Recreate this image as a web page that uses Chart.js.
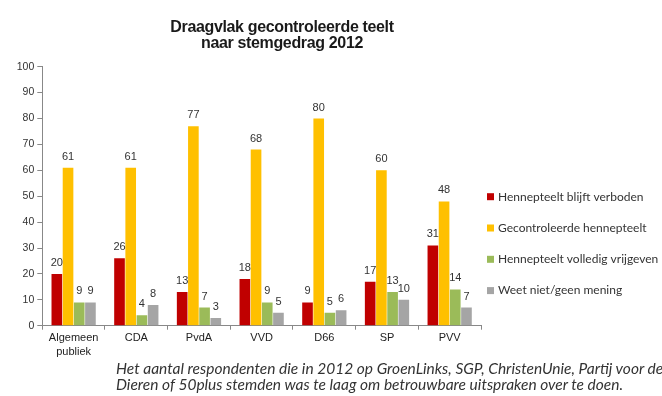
<!DOCTYPE html>
<html>
<head>
<meta charset="utf-8">
<script src="https://cdn.jsdelivr.net/npm/chart.js@4"></script>
<style>
  html, body { margin: 0; padding: 0; background: #fff; }
  #wrap { position: relative; width: 662px; height: 396px; overflow: hidden; }
  #title {
    position: absolute; left: 0; top: 19px; width: 564px;
    text-align: center; font: bold 16px "Liberation Sans", Arial, sans-serif;
    line-height: 16px; color: #1a1a1a; letter-spacing: -0.35px;
  }
  #note {
    position: absolute; left: 116px; top: 360px; white-space: nowrap;
    font: italic 15.5px Lato, "Open Sans", sans-serif; line-height: 16px; color: #333;
  }
  canvas { position: absolute; left: 0; top: 0; }
</style>
</head>
<body>
<div id="wrap">
  <canvas id="chart" width="662" height="396"></canvas>
  <div id="title">Draagvlak gecontroleerde teelt<br>naar stemgedrag 2012</div>
  <div id="note">Het aantal respondenten die in 2012 op GroenLinks, SGP, ChristenUnie, Partij voor de<br>Dieren of 50plus stemden was te laag om betrouwbare uitspraken over te doen.</div>
</div>
<script>
// Data
const categories = [['Algemeen', 'publiek'], 'CDA', 'PvdA', 'VVD', 'D66', 'SP', 'PVV'];
const seriesNames = ['Hennepteelt blijft verboden', 'Gecontroleerde hennepteelt', 'Hennepteelt volledig vrijgeven', 'Weet niet/geen mening'];
const verboden = [20, 26, 13, 18, 9, 17, 31];
const gecontroleerd = [61, 61, 77, 68, 80, 60, 48];
const vrijgeven = [9, 4, 7, 9, 5, 13, 14];
const weetNiet = [9, 8, 3, 5, 6, 10, 7];
const colors = ['#C00000', '#FFC000', '#9BBB59', '#A5A5A5'];

// value labels above bars
const valueLabels = {
    id: 'valueLabels',
    afterDatasetsDraw(chart) {
        const ctx = chart.ctx;
        ctx.save();
        ctx.font = '11px "Liberation Sans", Arial, sans-serif';
        ctx.fillStyle = '#333';
        ctx.textAlign = 'center';
        ctx.textBaseline = 'middle';
        chart.data.datasets.forEach((ds, i) => {
            chart.getDatasetMeta(i).data.forEach((bar, j) => {
                ctx.fillText(ds.data[j], bar.x, bar.y - 11);
            });
        });
        ctx.restore();
    }
};

// legend on the right
const sideLegend = {
    id: 'sideLegend',
    afterDraw(chart) {
        const ctx = chart.ctx;
        const area = chart.chartArea;
        ctx.save();
        ctx.font = '12px Lato, "Open Sans", sans-serif';
        ctx.textBaseline = 'middle';
        chart.data.datasets.forEach((ds, i) => {
            const x = area.right + 6;
            const y = area.top + 130 + i * 31.3;
            ctx.fillStyle = ds.backgroundColor;
            ctx.fillRect(x, y - 3.5, 7, 7);
            ctx.fillStyle = '#333';
            ctx.fillText(ds.label, x + 11, y);
        });
        ctx.restore();
    }
};

const ctx = document.getElementById('chart').getContext('2d');
new Chart(ctx, {
    type: 'bar',
    data: {
        labels: categories,
        datasets: [verboden, gecontroleerd, vrijgeven, weetNiet].map((d, i) => ({
            label: seriesNames[i],
            data: d,
            backgroundColor: colors[i],
            categoryPercentage: 0.715,
            barPercentage: 0.95
        }))
    },
    options: {
        responsive: false,
        animation: false,
        layout: { padding: { top: 66.7, right: 181, bottom: 0, left: 0 } },
        plugins: {
            legend: { display: false },
            tooltip: { enabled: false }
        },
        scales: {
            x: {
                afterFit(scale) { scale.height = 70.3; },
                border: { color: '#888' },
                grid: { display: true, drawOnChartArea: false, offset: true, tickLength: 4, color: '#888' },
                ticks: { color: '#222', padding: 2, font: { family: '"Liberation Sans", Arial, sans-serif', size: 11 }, maxRotation: 0 }
            },
            y: {
                min: 0,
                max: 100,
                afterFit(scale) { scale.width = 42.3; },
                border: { color: '#888' },
                grid: { display: true, drawOnChartArea: false, tickLength: 5, color: '#888' },
                ticks: { stepSize: 10, color: '#333', padding: 3, font: { family: '"Liberation Sans", Arial, sans-serif', size: 10.5 } }
            }
        }
    },
    plugins: [valueLabels, sideLegend]
});
</script>
</body>
</html>
